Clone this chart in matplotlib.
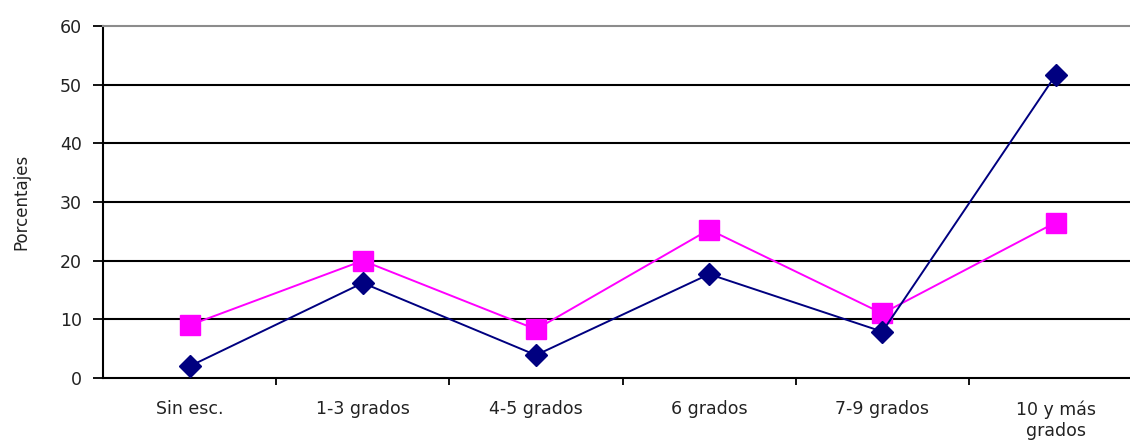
import numpy as np
import matplotlib.pyplot as plt

categorias = ["Sin esc.", "1-3 grados", "4-5 grados", "6 grados", "7-9 grados", "10 y más\ngrados"]
serie_azul = [2.0, 16.2, 3.9, 17.7, 7.9, 51.6]
serie_rosa = [9.0, 20.0, 8.3, 25.3, 11.0, 26.5]

plt.rcParams['font.family'] = ['DejaVu Sans']

fig = plt.figure(figsize=(11.3, 4.48), dpi=100)
ax = fig.add_axes([103/1130, 1-378/448, 1-103/1130, (378-26)/448])

x = np.arange(len(categorias))
ax.plot(x, serie_rosa, color="#FF00FF", lw=1.4, marker="s", ms=14,
        mfc="#FF00FF", mec="#FF00FF", zorder=3)
ax.plot(x, serie_azul, color="#000080", lw=1.4, marker="D", ms=11,
        mfc="#000080", mec="#000080", zorder=4)

ax.set_xlim(-0.5, 5.43)
ax.set_ylim(0, 60)
ax.set_yticks(np.arange(0, 61, 10))
for v in range(10, 60, 10):
    ax.axhline(v, color="black", lw=1.5, zorder=1)

ax.set_xticks(x)
ax.set_xticklabels(categorias, fontsize=12.5, color="#222222")
ax.set_xticks(np.arange(0.5, 5, 1), minor=True)
ax.tick_params(axis="x", which="major", length=0, pad=16)
ax.tick_params(axis="x", which="minor", length=5, width=1.3, direction="out")
ax.tick_params(axis="y", length=7, width=1.3, labelsize=12.5, pad=8,
               labelcolor="#222222")

ax.set_ylabel("Porcentajes", fontsize=12, labelpad=21, color="#222222")

ax.spines["right"].set_visible(False)
ax.spines["top"].set_color("#8c8c8c")
ax.spines["top"].set_linewidth(1.5)
ax.spines["left"].set_linewidth(1.5)
ax.spines["bottom"].set_linewidth(1.5)

fig.savefig("out.png", dpi=100)
